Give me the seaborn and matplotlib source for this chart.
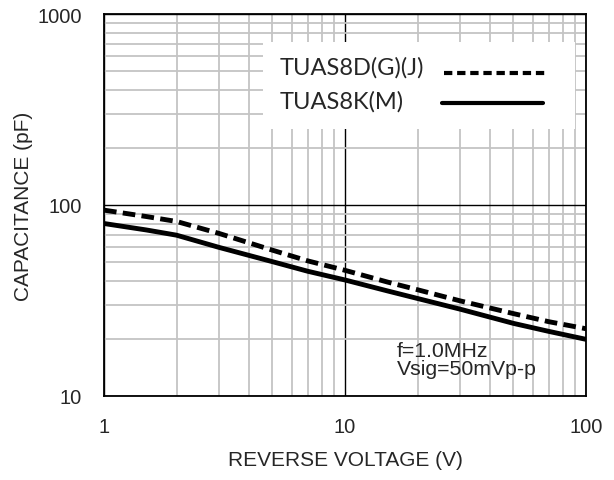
"""
Capacitance vs reverse voltage (log-log) for the TUAS8 diode family.
"""

import pandas as pd
import matplotlib.pyplot as plt
import seaborn as sns
from matplotlib.patches import Rectangle
from matplotlib.ticker import FixedLocator, NullFormatter, LogLocator

# Data
VOLTAGE = [1, 1.5, 2, 3, 5, 7, 10, 15, 20, 30, 50, 70, 100]
CAP_DGJ = [94, 87, 82, 71, 58, 51, 45.5, 39.5, 36, 31.5, 27, 24.5, 22.5]
CAP_KM = [80, 74, 69.5, 60, 50.5, 45, 40.5, 35.5, 32.4, 28.5, 24, 21.8, 19.8]
SERIES = ["TUAS8D(G)(J)", "TUAS8K(M)"]

X_TICKS = [1, 10, 100]
Y_TICKS = [10, 100, 1000]
NOTE = ["f=1.0MHz", "Vsig=50mVp-p"]


def build_frame():
    rows = []
    for name, vals in zip(SERIES, [CAP_DGJ, CAP_KM]):
        for v, c in zip(VOLTAGE, vals):
            rows.append({"Voltage": v, "Capacitance": c, "Type": name})
    return pd.DataFrame(rows)


def main():
    sns.set_style("white")
    plt.rcParams["font.family"] = ["Liberation Sans", "DejaVu Sans"]

    df = build_frame()
    fig = plt.figure(figsize=(6.14, 4.81), dpi=100)
    ax = fig.add_axes([104 / 614, 1 - 397 / 481, (586 - 104) / 614, (397 - 15) / 481])

    sns.lineplot(
        data=df, x="Voltage", y="Capacitance", hue="Type", style="Type",
        palette=["black", "black"], dashes={SERIES[0]: (2.6, 1.3), SERIES[1]: ""},
        linewidth=3.5, ax=ax, legend=False,
    )
    ax.set_xscale("log")
    ax.set_yscale("log")
    ax.set_xlim(1, 100)
    ax.set_ylim(10, 1000)

    # grid: gray minor lines, black decade lines
    ax.xaxis.set_minor_locator(LogLocator(base=10, subs=range(2, 10)))
    ax.yaxis.set_minor_locator(LogLocator(base=10, subs=range(2, 10)))
    ax.xaxis.set_minor_formatter(NullFormatter())
    ax.yaxis.set_minor_formatter(NullFormatter())
    ax.grid(which="minor", color="#c4c4c4", linewidth=1.3)
    ax.grid(which="major", color="black", linewidth=1.0)
    ax.set_axisbelow(True)

    ax.xaxis.set_major_locator(FixedLocator(X_TICKS))
    ax.yaxis.set_major_locator(FixedLocator(Y_TICKS))
    ax.set_xticklabels([str(t) for t in X_TICKS], fontsize=14.5)
    ax.set_yticklabels([str(t) for t in Y_TICKS], fontsize=14.5)
    ax.tick_params(axis="x", which="both", length=0, pad=15)
    ax.tick_params(axis="y", which="both", length=0, pad=16)

    for s in ax.spines.values():
        s.set_color("black")
        s.set_linewidth(1.3)

    ax.set_xlabel("REVERSE VOLTAGE (V)", fontsize=15, labelpad=10)
    ax.set_ylabel("CAPACITANCE (pF)", fontsize=15, labelpad=3)

    # legend: white panel over the grid, labels on the left, line keys right
    ax.add_patch(Rectangle((0.330, 0.699), 0.647, 0.228, transform=ax.transAxes,
                           facecolor="white", edgecolor="none", zorder=3))
    leg_font = {"family": ["Lato", "DejaVu Sans"], "size": 17}
    ax.text(0.365, 0.861, SERIES[0], transform=ax.transAxes, va="center",
            ha="left", zorder=4, fontdict=leg_font)
    ax.text(0.365, 0.772, SERIES[1], transform=ax.transAxes, va="center",
            ha="left", zorder=4, fontdict=leg_font)
    ax.plot([0.705, 0.915], [0.846, 0.846], transform=ax.transAxes,
            color="black", lw=3.0, dashes=(2.0, 1.15), zorder=4)
    ax.plot([0.701, 0.911], [0.767, 0.767], transform=ax.transAxes,
            color="black", lw=3.0, zorder=4)

    ax.text(0.608, 0.118, NOTE[0], transform=ax.transAxes, fontsize=15.3,
            va="center", ha="left")
    ax.text(0.608, 0.071, NOTE[1], transform=ax.transAxes, fontsize=15.3,
            va="center", ha="left")

    fig.savefig("out.png", dpi=100)


if __name__ == "__main__":
    main()
